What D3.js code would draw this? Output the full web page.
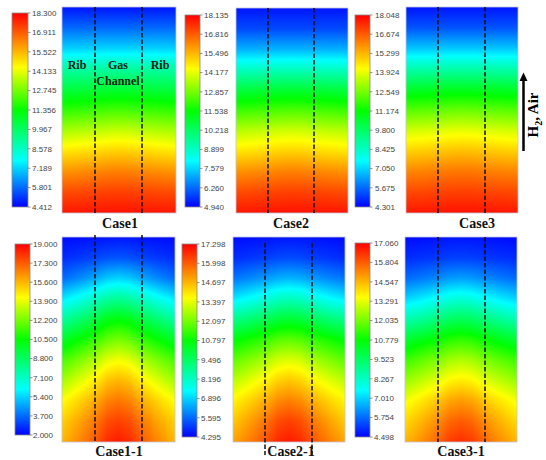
<!DOCTYPE html>
<html>
<head>
<meta charset="utf-8">
<script src="https://cdn.jsdelivr.net/npm/d3@7"></script>
<style>
  body { margin: 0; background: #fff; }
  svg { display: block; }
</style>
</head>
<body>
<svg width="546" height="460"></svg>
<script>
// ---- data ----
var caseNames = ['Case1', 'Case2', 'Case3', 'Case1-1', 'Case2-1', 'Case3-1'];

// colour bar labels, top to bottom
var ticks1  = ['18.300', '16.911', '15.522', '14.133', '12.745', '11.356', '9.967', '8.578', '7.189', '5.801', '4.412'];
var ticks2  = ['18.135', '16.816', '15.496', '14.177', '12.857', '11.538', '10.218', '8.899', '7.579', '6.260', '4.940'];
var ticks3  = ['18.048', '16.674', '15.299', '13.924', '12.549', '11.174', '9.800', '8.425', '7.050', '5.675', '4.301'];
var ticks11 = ['19.000', '17.300', '15.600', '13.900', '12.200', '10.500', '8.800', '7.100', '5.400', '3.700', '2.000'];
var ticks21 = ['17.298', '15.998', '14.697', '13.397', '12.097', '10.797', '9.496', '8.196', '6.896', '5.595', '4.295'];
var ticks31 = ['17.060', '15.804', '14.547', '13.291', '12.035', '10.779', '9.523', '8.267', '7.010', '5.754', '4.498'];

// sample positions: rows top->bottom, half columns rib edge -> channel centre
var rowPos = [0, 0.1, 0.2, 0.3, 0.4, 0.5, 0.6, 0.7, 0.8, 0.9, 1];
var colPos = [0, 0.15, 0.29, 0.4, 0.5];

var field1 = [
  [4.69, 4.69, 4.69, 4.69, 4.69],
  [5.80, 5.80, 5.80, 5.80, 5.80],
  [7.15, 7.16, 7.17, 7.19, 7.19],
  [9.03, 9.06, 9.09, 9.12, 9.13],
  [10.45, 10.51, 10.58, 10.64, 10.66],
  [11.90, 11.99, 12.07, 12.16, 12.19],
  [13.35, 13.46, 13.57, 13.68, 13.72],
  [14.75, 14.86, 14.97, 15.07, 15.11],
  [16.05, 16.14, 16.24, 16.33, 16.36],
  [17.15, 17.20, 17.26, 17.31, 17.33],
  [17.95, 17.97, 17.99, 18.01, 18.02]
];
var field2 = [
  [5.20, 5.20, 5.20, 5.20, 5.20],
  [5.86, 5.86, 5.86, 5.86, 5.86],
  [7.14, 7.15, 7.16, 7.18, 7.18],
  [8.94, 8.97, 8.99, 9.02, 9.03],
  [10.70, 10.75, 10.81, 10.86, 10.88],
  [12.20, 12.28, 12.36, 12.43, 12.46],
  [13.62, 13.71, 13.79, 13.88, 13.91],
  [14.80, 14.89, 14.98, 15.07, 15.10],
  [16.03, 16.11, 16.19, 16.26, 16.29],
  [17.05, 17.10, 17.15, 17.19, 17.21],
  [17.80, 17.82, 17.84, 17.86, 17.87]
];
var field3 = [
  [4.58, 4.58, 4.58, 4.58, 4.58],
  [5.40, 5.40, 5.40, 5.40, 5.40],
  [6.87, 6.88, 6.89, 6.91, 6.91],
  [8.76, 8.78, 8.81, 8.83, 8.84],
  [10.60, 10.65, 10.70, 10.74, 10.76],
  [12.16, 12.24, 12.31, 12.39, 12.41],
  [13.64, 13.72, 13.81, 13.89, 13.92],
  [14.88, 14.96, 15.05, 15.13, 15.16],
  [16.02, 16.09, 16.16, 16.24, 16.26],
  [16.94, 16.99, 17.03, 17.08, 17.09],
  [17.70, 17.72, 17.74, 17.76, 17.77]
];
var field11 = [
  [2.17, 2.22, 2.27, 2.32, 2.34],
  [2.68, 2.88, 3.09, 3.29, 3.36],
  [3.70, 4.21, 4.72, 5.23, 5.40],
  [5.74, 6.40, 7.07, 7.73, 7.95],
  [7.78, 8.55, 9.31, 10.08, 10.33],
  [9.82, 10.53, 11.25, 11.96, 12.20],
  [11.52, 12.29, 13.05, 13.82, 14.07],
  [12.88, 13.70, 14.51, 15.33, 15.60],
  [14.24, 15.01, 15.77, 16.54, 16.79],
  [15.09, 15.91, 16.72, 17.54, 17.81],
  [15.60, 16.47, 17.33, 18.20, 18.49]
];
var field21 = [
  [4.43, 4.47, 4.51, 4.55, 4.56],
  [4.82, 4.94, 5.05, 5.17, 5.21],
  [5.73, 5.96, 6.20, 6.43, 6.51],
  [7.16, 7.51, 7.86, 8.21, 8.33],
  [8.98, 9.33, 9.68, 10.03, 10.15],
  [10.67, 11.02, 11.37, 11.72, 11.84],
  [11.84, 12.27, 12.70, 13.13, 13.27],
  [12.88, 13.35, 13.82, 14.28, 14.44],
  [13.79, 14.30, 14.80, 15.31, 15.48],
  [14.44, 15.03, 15.61, 16.20, 16.39],
  [14.96, 15.55, 16.13, 16.72, 16.91]
];
var field31 = [
  [4.62, 4.66, 4.70, 4.74, 4.75],
  [5.00, 5.08, 5.15, 5.23, 5.25],
  [5.75, 5.94, 6.13, 6.32, 6.38],
  [7.01, 7.31, 7.62, 7.92, 8.02],
  [8.52, 8.86, 9.20, 9.54, 9.65],
  [10.15, 10.49, 10.83, 11.17, 11.28],
  [11.41, 11.79, 12.16, 12.54, 12.66],
  [12.41, 12.82, 13.24, 13.65, 13.79],
  [13.42, 13.87, 14.32, 14.77, 14.92],
  [14.05, 14.58, 15.10, 15.63, 15.80],
  [14.55, 15.11, 15.68, 16.24, 16.43]
];

var tickSets = [ticks1, ticks2, ticks3, ticks11, ticks21, ticks31];
var fields = [field1, field2, field3, field11, field21, field31];

// ---- layout ----
var layout = [
  { bar: [12, 13, 28, 207],  labX: 32,  box: [62, 7, 176, 213],   dash: [95, 142, 7, 213],    title: [120, 228] },
  { bar: [185, 15, 200, 207], labX: 204, box: [236, 8, 348, 213],  dash: [268, 314, 8, 213],   title: [291, 228] },
  { bar: [355, 15, 370, 207], labX: 375, box: [406, 7, 518, 213],  dash: [438, 485, 7, 213],   title: [477, 228] },
  { bar: [15, 244, 30, 435],  labX: 33,  box: [62, 237, 175, 442], dash: [95, 142, 235, 443], title: [119, 456] },
  { bar: [182, 244, 197, 437], labX: 201, box: [233, 237, 345, 442], dash: [265, 312, 243, 455], title: [291, 456] },
  { bar: [355, 243, 370, 437], labX: 374, box: [405, 237, 517, 442], dash: [438, 485, 237, 442], title: [461, 456] }
];

var svg = d3.select('svg');
var defs = svg.append('defs');

// fluent-like rainbow, on a 0..1 level
var rainbow = d3.scaleLinear()
  .domain([0, 0.24, 0.5, 0.72, 1])
  .range(['#0000ff', '#00ffff', '#00ff00', '#ffff00', '#ff0000'])
  .interpolate(d3.interpolateRgb)
  .clamp(true);

// full-width column positions (mirror of the half columns)
var fullCols = colPos.concat(colPos.slice(0, -1).reverse().map(function(c) { return 1 - c; }));

function sampleField(grid, fx, fy) {
  var rows = grid.map(function(r) { return r.concat(r.slice(0, -1).reverse()); });
  var i = Math.min(d3.bisectRight(rowPos, fy) - 1, rowPos.length - 2);
  var j = Math.min(d3.bisectRight(fullCols, fx) - 1, fullCols.length - 2);
  var ty = (fy - rowPos[i]) / (rowPos[i + 1] - rowPos[i]);
  var tx = (fx - fullCols[j]) / (fullCols[j + 1] - fullCols[j]);
  var a = rows[i][j] * (1 - tx) + rows[i][j + 1] * tx;
  var b = rows[i + 1][j] * (1 - tx) + rows[i + 1][j + 1] * tx;
  return a * (1 - ty) + b * ty;
}

layout.forEach(function(L, k) {
  var labels = tickSets[k];
  var vals = labels.map(Number);
  var vmin = d3.min(vals), vmax = d3.max(vals);
  var level = d3.scaleLinear().domain([vmin, vmax]).range([0, 1]);
  var g = svg.append('g').attr('class', 'panel');

  // colour bar
  var gid = 'bar' + k;
  var grad = defs.append('linearGradient')
    .attr('id', gid).attr('x1', 0).attr('y1', 1).attr('x2', 0).attr('y2', 0);
  grad.selectAll('stop')
    .data(rainbow.domain())
    .enter().append('stop')
    .attr('offset', function(d) { return d; })
    .attr('stop-color', function(d) { return rainbow(d); });

  var yBar = d3.scaleLinear().domain([vmin, vmax]).range([L.bar[3], L.bar[1]]);
  g.append('rect')
    .attr('x', L.bar[0]).attr('y', L.bar[1])
    .attr('width', L.bar[2] - L.bar[0]).attr('height', L.bar[3] - L.bar[1])
    .attr('fill', 'url(#' + gid + ')')
    .attr('stroke', '#8a8a8a').attr('stroke-width', 0.8);

  g.selectAll('.tk')
    .data(vals)
    .enter().append('line')
    .attr('x1', L.bar[2]).attr('x2', L.bar[2] + 2.5)
    .attr('y1', function(d) { return yBar(d); })
    .attr('y2', function(d) { return yBar(d); })
    .attr('stroke', '#777').attr('stroke-width', 0.8);

  g.selectAll('.lab')
    .data(labels)
    .enter().append('text')
    .attr('x', L.labX)
    .attr('y', function(d) { return yBar(+d); })
    .attr('dy', '0.35em')
    .attr('font-family', 'Liberation Sans, Arial, sans-serif')
    .attr('font-size', 8)
    .attr('fill', '#444')
    .text(function(d) { return d; });

  // contour field
  var w = L.box[2] - L.box[0], h = L.box[3] - L.box[1];
  var canvas = document.createElement('canvas');
  canvas.width = w; canvas.height = h;
  var ctx = canvas.getContext('2d');
  var img = ctx.createImageData(w, h);
  var xs = d3.scaleLinear().domain([0, w - 1]).range([0, 1]);
  var ys = d3.scaleLinear().domain([0, h - 1]).range([0, 1]);
  for (var py = 0; py < h; py++) {
    for (var px = 0; px < w; px++) {
      var v = sampleField(fields[k], xs(px), ys(py));
      var c = d3.rgb(rainbow(level(v)));
      var o = (py * w + px) * 4;
      img.data[o] = c.r; img.data[o + 1] = c.g; img.data[o + 2] = c.b; img.data[o + 3] = 255;
    }
  }
  ctx.putImageData(img, 0, 0);

  g.append('image')
    .attr('x', L.box[0]).attr('y', L.box[1])
    .attr('width', w).attr('height', h)
    .attr('preserveAspectRatio', 'none')
    .attr('href', canvas.toDataURL());
  g.append('rect')
    .attr('x', L.box[0]).attr('y', L.box[1])
    .attr('width', w).attr('height', h)
    .attr('fill', 'none')
    .attr('stroke', '#c4c4dc').attr('stroke-width', 0.8);

  // rib / channel boundaries
  g.selectAll('.dash')
    .data([L.dash[0], L.dash[1]])
    .enter().append('line')
    .attr('x1', function(d) { return d; }).attr('x2', function(d) { return d; })
    .attr('y1', L.dash[2]).attr('y2', L.dash[3])
    .attr('stroke', '#111').attr('stroke-width', 1.5)
    .attr('stroke-dasharray', '4.5,2');

  g.append('text')
    .attr('x', L.title[0]).attr('y', L.title[1])
    .attr('text-anchor', 'middle')
    .attr('font-family', 'Liberation Serif, Times New Roman, serif')
    .attr('font-weight', 'bold')
    .attr('font-size', 14)
    .attr('fill', '#111')
    .text(caseNames[k]);
});

// region names on the first panel
var regionText = [
  { t: 'Rib', x: 77, y: 69 },
  { t: 'Gas', x: 118, y: 69 },
  { t: 'Channel', x: 118, y: 85 },
  { t: 'Rib', x: 160, y: 69 }
];
svg.selectAll('.region')
  .data(regionText)
  .enter().append('text')
  .attr('x', function(d) { return d.x; })
  .attr('y', function(d) { return d.y; })
  .attr('text-anchor', 'middle')
  .attr('font-family', 'Liberation Serif, Times New Roman, serif')
  .attr('font-weight', 'bold')
  .attr('font-size', 12)
  .attr('fill', '#102010')
  .text(function(d) { return d.t; });

// flow direction arrow
svg.append('line')
  .attr('x1', 523.5).attr('x2', 523.5)
  .attr('y1', 151).attr('y2', 79)
  .attr('stroke', '#000').attr('stroke-width', 2.5);
svg.append('path')
  .attr('d', 'M519.5,81 L523.5,72.5 L527.5,81 Z')
  .attr('fill', '#000');

var flow = svg.append('text')
  .attr('transform', 'translate(538,115) rotate(-90)')
  .attr('text-anchor', 'middle')
  .attr('font-family', 'Liberation Serif, Times New Roman, serif')
  .attr('font-weight', 'bold')
  .attr('font-size', 15)
  .attr('fill', '#000');
flow.append('tspan').text('H');
flow.append('tspan').attr('font-size', 10).attr('dy', 4).text('2');
flow.append('tspan').attr('dy', -4).text(', Air');
</script>
</body>
</html>
